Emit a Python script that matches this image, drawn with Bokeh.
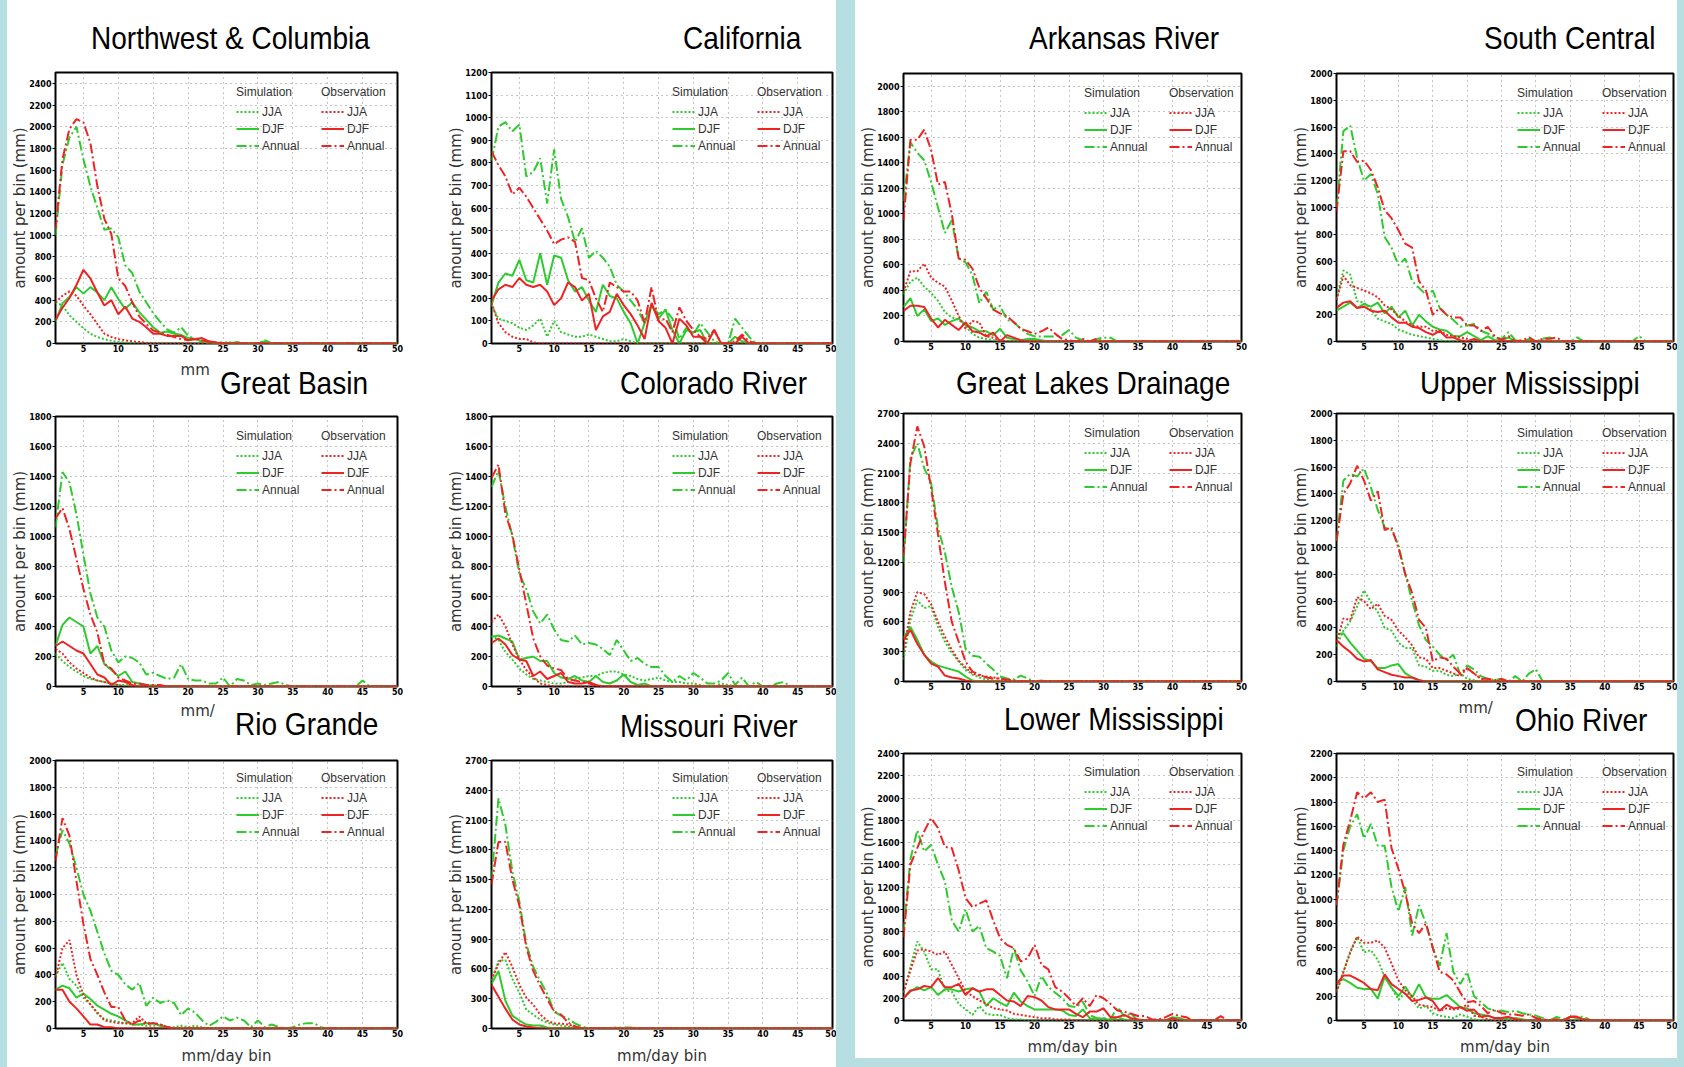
from bokeh.plotting import figure
from bokeh.layouts import row, column
from bokeh.models import Range1d, Legend, LegendItem, FixedTicker, Spacer, Div
from bokeh.embed import file_html
from bokeh.resources import INLINE

BINS = list(range(1, 51))

# ---------------- data (amount per bin, mm); bins after the listed ones are 0
nw_sim_jja = [380, 350, 260, 200, 140, 90, 60, 40, 25, 15, 10, 5]
nw_sim_djf = [200, 370, 430, 520, 460, 520, 470, 400, 520, 410, 320, 380, 290, 220, 150, 100, 110, 90, 80, 50, 40, 20, 10, 0, 0, 10, 0, 0, 0, 0, 20]
nw_sim_ann = [1000, 1650, 1900, 2000, 1700, 1450, 1250, 1050, 1060, 980, 720, 650, 480, 380, 280, 200, 130, 100, 150, 70, 40, 20, 0, 0, 15, 0, 15, 0, 0, 0, 30]
nw_obs_jja = [380, 440, 480, 440, 350, 270, 180, 90, 60, 40, 30, 20, 15, 5]
nw_obs_djf = [220, 330, 420, 540, 680, 600, 470, 350, 400, 270, 340, 230, 200, 150, 90, 90, 70, 70, 70, 30, 40, 50, 20, 10]
nw_obs_ann = [1050, 1700, 1980, 2070, 2040, 1850, 1450, 1150, 1010, 600, 530, 380, 250, 180, 120, 100, 80, 60, 40, 30, 50, 30, 15, 10]

ca_sim_jja = [170, 110, 100, 90, 70, 60, 80, 110, 30, 100, 50, 40, 30, 30, 40, 30, 20, 10, 10, 20, 10]
ca_sim_djf = [170, 270, 310, 300, 370, 280, 270, 400, 260, 390, 380, 280, 230, 250, 190, 140, 260, 210, 200, 140, 90, 0, 90, 170, 110, 150, 60, 0, 60, 50, 60, 0, 0, 0, 0, 30, 10]
ca_sim_ann = [810, 960, 980, 940, 970, 740, 760, 820, 620, 860, 640, 560, 450, 510, 380, 410, 380, 340, 260, 230, 190, 150, 90, 170, 130, 150, 110, 20, 70, 40, 90, 50, 10, 0, 0, 110, 70, 30]
ca_obs_jja = [180, 90, 50, 30, 20, 20, 5]
ca_obs_djf = [190, 240, 260, 250, 290, 260, 250, 260, 230, 170, 200, 270, 250, 190, 220, 60, 120, 140, 220, 170, 130, 80, 20, 180, 100, 70, 0, 110, 80, 30, 30, 0, 60, 0, 0, 0, 30]
ca_obs_ann = [850, 790, 740, 660, 690, 650, 600, 550, 500, 440, 460, 470, 450, 290, 280, 200, 140, 270, 250, 230, 230, 190, 90, 250, 100, 110, 50, 160, 100, 60, 30, 20, 60, 0, 0, 10, 40, 10]

gb_sim_jja = [220, 170, 130, 100, 70, 50, 40, 30, 20, 10, 10, 5, 5, 5, 10]
gb_sim_djf = [270, 410, 460, 430, 400, 220, 270, 150, 110, 70, 100, 30, 20, 10]
gb_sim_ann = [1060, 1430, 1360, 1150, 880, 620, 460, 400, 240, 160, 200, 190, 160, 80, 90, 70, 50, 60, 150, 50, 40, 40, 20, 20, 60, 0, 50, 40, 10, 20, 10, 20, 30, 10, 0, 0, 0, 0, 0, 0, 0, 0, 0, 0, 40]
gb_obs_jja = [250, 220, 160, 120, 90, 60, 40, 30, 20, 10]
gb_obs_djf = [270, 300, 270, 240, 220, 150, 80, 60, 10, 40, 30, 10]
gb_obs_ann = [1120, 1190, 1050, 850, 650, 480, 360, 150, 120, 60, 40, 20, 20, 10, 10, 10]

co_sim_jja = [340, 310, 230, 180, 120, 80, 50, 40, 30, 20, 20, 30, 50, 60, 70, 70, 90, 100, 100, 80, 70, 50, 40, 50, 60, 40, 30, 30, 20, 20, 10, 0, 0, 20, 10]
co_sim_djf = [330, 340, 320, 300, 180, 190, 200, 170, 170, 90, 60, 50, 70, 40, 30, 70, 30, 20, 40, 80, 30, 10, 20]
co_sim_ann = [1330, 1440, 1200, 1000, 750, 650, 500, 420, 480, 380, 310, 300, 340, 280, 290, 280, 250, 210, 310, 240, 170, 190, 150, 130, 130, 70, 30, 70, 40, 90, 60, 20, 20, 40, 90, 10, 60, 0, 30, 0, 0, 20, 30]
co_obs_jja = [430, 480, 400, 280, 180, 110, 60, 20, 10]
co_obs_djf = [290, 320, 280, 210, 180, 170, 70, 100, 50, 70, 90, 30, 20, 20, 30, 10]
co_obs_ann = [1390, 1480, 1150, 1010, 780, 550, 320, 200, 140, 120, 110, 50, 40, 30, 20, 10]

rg_sim_jja = [390, 490, 370, 320, 230, 180, 110, 70, 60, 50, 40, 30, 30, 20, 20, 30, 10, 10, 20, 10, 20, 10]
rg_sim_djf = [290, 320, 300, 230, 260, 220, 170, 140, 110, 90, 60, 30, 30, 40, 40, 20, 10]
rg_sim_ann = [1290, 1480, 1380, 1200, 1000, 880, 720, 560, 430, 400, 330, 290, 340, 170, 230, 190, 210, 190, 100, 150, 120, 60, 20, 50, 90, 60, 80, 60, 10, 60, 10, 30, 10, 0, 10, 30, 40, 40, 10]
rg_obs_jja = [380, 600, 660, 400, 250, 180, 120, 60, 50, 40, 40, 40, 90, 40, 40, 30, 10]
rg_obs_djf = [290, 290, 200, 150, 90, 30, 30, 10, 10]
rg_obs_ann = [1250, 1570, 1440, 1100, 780, 520, 400, 270, 160, 160, 60, 30, 60, 30, 40, 30, 10]

mo_sim_jja = [480, 680, 690, 500, 360, 190, 140, 90, 60, 40, 30, 20, 10]
mo_sim_djf = [450, 580, 280, 130, 80, 40, 30, 30, 10]
mo_sim_ann = [1500, 2320, 2050, 1580, 1280, 850, 620, 480, 350, 170, 130, 100, 50, 20, 0, 0, 0, 0, 10, 10, 10]
mo_obs_jja = [490, 650, 770, 620, 440, 310, 240, 140, 80, 50, 50, 40, 20]
mo_obs_djf = [440, 320, 200, 90, 40, 20, 10]
mo_obs_ann = [1450, 1880, 1880, 1500, 1240, 820, 580, 430, 300, 170, 140, 60, 20]

ar_sim_jja = [370, 470, 500, 430, 380, 320, 230, 190, 170, 120, 60, 30, 20, 10]
ar_sim_djf = [270, 340, 200, 250, 160, 180, 130, 160, 180, 130, 110, 80, 80, 50, 100, 30, 20, 10, 20, 20, 10]
ar_sim_ann = [1100, 1560, 1480, 1420, 1250, 1050, 850, 950, 650, 620, 520, 300, 390, 250, 280, 170, 150, 100, 60, 40, 40, 40, 40, 50, 90, 30, 10, 0, 20, 30, 30]
ar_obs_jja = [390, 550, 550, 610, 500, 460, 430, 320, 200, 100, 160, 150, 40, 30, 10]
ar_obs_djf = [240, 280, 280, 270, 180, 110, 170, 130, 90, 150, 80, 70, 40, 70, 0, 50, 30, 10]
ar_obs_ann = [950, 1580, 1580, 1660, 1500, 1230, 1250, 1000, 650, 640, 570, 420, 340, 250, 220, 200, 150, 100, 80, 60, 80, 110, 60, 20, 10, 0, 20, 0, 20]

sc_sim_jja = [320, 530, 500, 300, 290, 240, 170, 150, 130, 90, 70, 50, 40, 30, 20, 10]
sc_sim_djf = [230, 260, 290, 250, 280, 260, 290, 210, 260, 180, 230, 120, 200, 150, 110, 90, 80, 40, 40, 70, 40, 10, 40, 10, 10, 30]
sc_sim_ann = [1000, 1570, 1610, 1370, 1200, 1250, 1100, 780, 700, 570, 620, 450, 400, 350, 380, 250, 200, 160, 110, 120, 130, 80, 60, 30, 20, 70, 10, 0, 20, 0, 20, 30, 0, 0, 0, 30, 0, 0, 0, 0, 0, 0, 0, 0, 40]
sc_obs_jja = [310, 490, 420, 400, 380, 360, 330, 270, 240, 190, 150, 120, 110, 110, 80, 80, 50, 40, 30, 20]
sc_obs_djf = [250, 290, 300, 250, 260, 230, 220, 230, 180, 140, 140, 110, 100, 70, 50, 80, 30, 30, 10, 0, 20]
sc_obs_ann = [970, 1420, 1420, 1340, 1350, 1280, 1150, 980, 920, 830, 730, 700, 450, 380, 200, 250, 200, 180, 180, 120, 120, 80, 110, 40, 10, 40, 0, 10, 30, 0, 20, 20, 30]

gl_sim_jja = [220, 620, 820, 740, 760, 550, 400, 290, 200, 120, 70, 40, 20, 10]
gl_sim_djf = [440, 550, 420, 270, 200, 160, 140, 120, 100, 50, 10]
gl_sim_ann = [1200, 2250, 2400, 2150, 2000, 1550, 1300, 950, 700, 330, 260, 250, 180, 120, 50, 30, 20, 60, 30, 0, 10]
gl_obs_jja = [300, 700, 900, 880, 780, 600, 450, 320, 210, 140, 80, 60, 50, 40, 30, 10]
gl_obs_djf = [420, 520, 380, 270, 180, 150, 60, 40, 30, 10]
gl_obs_ann = [1260, 2200, 2570, 2370, 1950, 1480, 1000, 600, 400, 200, 100, 70, 40, 30, 30, 20, 10]

um_sim_jja = [260, 380, 450, 560, 680, 590, 520, 400, 380, 290, 250, 250, 120, 110, 80, 80, 50, 40, 60, 20, 10]
um_sim_djf = [350, 360, 290, 230, 170, 150, 100, 100, 120, 130, 60, 30, 10]
um_sim_ann = [1050, 1500, 1550, 1530, 1590, 1450, 1280, 1150, 1130, 1020, 800, 600, 420, 310, 260, 200, 160, 200, 50, 120, 90, 40, 20, 10, 20, 0, 40, 0, 60, 90]
um_obs_jja = [290, 470, 460, 630, 600, 540, 580, 490, 460, 380, 330, 270, 180, 170, 100, 100, 80, 60, 40, 100, 60, 20]
um_obs_djf = [310, 260, 220, 170, 150, 160, 90, 70, 50, 40, 30, 30, 10]
um_obs_ann = [1050, 1400, 1480, 1610, 1500, 1350, 1420, 1130, 1150, 1000, 800, 660, 460, 400, 150, 180, 170, 110, 60, 100, 60, 20, 20, 10, 20]

lm_sim_jja = [250, 480, 710, 620, 460, 460, 270, 260, 150, 100, 50, 130, 60, 50, 50, 20, 10, 10]
lm_sim_djf = [200, 260, 300, 270, 300, 230, 280, 280, 260, 280, 290, 260, 130, 200, 160, 130, 250, 170, 130, 100, 100, 100, 100, 90, 50, 40, 100, 20, 10, 20, 0, 30, 10, 0, 0, 0, 0, 0, 0, 30, 20]
lm_sim_ann = [800, 1450, 1710, 1520, 1580, 1400, 1250, 900, 800, 1000, 800, 850, 650, 620, 580, 380, 650, 450, 350, 220, 400, 300, 250, 200, 130, 120, 170, 50, 20, 20, 10, 120, 40, 60, 0, 0, 0, 0, 0, 10, 20]
lm_obs_jja = [250, 450, 630, 640, 620, 590, 620, 500, 380, 260, 220, 180, 150, 110, 100, 90, 60, 50, 40, 30, 20, 20, 10, 10, 10]
lm_obs_djf = [200, 270, 280, 310, 300, 380, 300, 300, 330, 230, 290, 260, 280, 280, 230, 180, 170, 130, 220, 210, 180, 120, 100, 100, 100, 60, 30, 80, 80, 110, 30, 30, 50, 20, 10, 0, 0, 0, 0, 20]
lm_obs_ann = [750, 1400, 1550, 1700, 1820, 1730, 1560, 1550, 1350, 1100, 1020, 1050, 1080, 900, 740, 680, 650, 530, 560, 680, 500, 460, 300, 260, 200, 130, 200, 130, 230, 200, 150, 90, 80, 60, 40, 40, 10, 10, 30, 60, 40, 30, 0, 0, 0, 0, 40]

oh_sim_jja = [240, 400, 570, 690, 560, 580, 500, 360, 270, 170, 230, 170, 100, 120, 60, 40, 30, 20, 50, 30, 10]
oh_sim_djf = [320, 340, 310, 270, 260, 260, 180, 360, 270, 200, 280, 190, 300, 190, 180, 180, 210, 160, 110, 100, 60, 50, 40, 20, 20, 10, 20, 10, 0, 0, 0, 0, 0, 0, 30, 20, 10]
oh_sim_ann = [950, 1400, 1600, 1700, 1500, 1620, 1440, 1440, 1100, 900, 1100, 700, 950, 800, 600, 450, 720, 400, 300, 400, 200, 150, 100, 80, 80, 70, 80, 60, 50, 40, 20, 0, 30, 10, 30, 30, 30]
oh_obs_jja = [230, 400, 560, 690, 640, 640, 660, 600, 470, 330, 250, 200, 130, 120, 110, 80, 100, 90, 100, 130, 40, 30, 10]
oh_obs_djf = [300, 370, 370, 340, 310, 260, 250, 380, 300, 260, 220, 160, 170, 190, 160, 80, 130, 100, 110, 80, 90, 30, 40, 20, 20, 30, 10, 0, 0, 0, 0, 0, 0, 0, 30, 30]
oh_obs_ann = [950, 1450, 1650, 1880, 1830, 1880, 1800, 1820, 1420, 1250, 1050, 800, 720, 800, 600, 400, 380, 330, 230, 150, 160, 120, 60, 90, 60, 50, 50, 40, 50, 20, 10, 0, 10, 0, 30, 30, 10]

region_names = ["Northwest & Columbia", "California", "Great Basin", "Colorado River", "Rio Grande",
                "Missouri River", "Arkansas River", "South Central", "Great Lakes Drainage",
                "Upper Mississippi", "Lower Mississippi", "Ohio River"]
region_series = [
    (nw_sim_jja, nw_sim_djf, nw_sim_ann, nw_obs_jja, nw_obs_djf, nw_obs_ann),
    (ca_sim_jja, ca_sim_djf, ca_sim_ann, ca_obs_jja, ca_obs_djf, ca_obs_ann),
    (gb_sim_jja, gb_sim_djf, gb_sim_ann, gb_obs_jja, gb_obs_djf, gb_obs_ann),
    (co_sim_jja, co_sim_djf, co_sim_ann, co_obs_jja, co_obs_djf, co_obs_ann),
    (rg_sim_jja, rg_sim_djf, rg_sim_ann, rg_obs_jja, rg_obs_djf, rg_obs_ann),
    (mo_sim_jja, mo_sim_djf, mo_sim_ann, mo_obs_jja, mo_obs_djf, mo_obs_ann),
    (ar_sim_jja, ar_sim_djf, ar_sim_ann, ar_obs_jja, ar_obs_djf, ar_obs_ann),
    (sc_sim_jja, sc_sim_djf, sc_sim_ann, sc_obs_jja, sc_obs_djf, sc_obs_ann),
    (gl_sim_jja, gl_sim_djf, gl_sim_ann, gl_obs_jja, gl_obs_djf, gl_obs_ann),
    (um_sim_jja, um_sim_djf, um_sim_ann, um_obs_jja, um_obs_djf, um_obs_ann),
    (lm_sim_jja, lm_sim_djf, lm_sim_ann, lm_obs_jja, lm_obs_djf, lm_obs_ann),
    (oh_sim_jja, oh_sim_djf, oh_sim_ann, oh_obs_jja, oh_obs_djf, oh_obs_ann),
]
y_max = [2500, 1200, 1800, 1800, 2000, 2700, 2100, 2000, 2700, 2000, 2400, 2200]
y_step = [200, 100, 200, 200, 200, 300, 200, 200, 300, 200, 200, 200]
x_ticks = [5, 10, 15, 20, 25, 30, 35, 40, 45, 50]
season_labels = ["JJA", "DJF", "Annual"]
x_label = "mm/day bin"

# ---------------- styling / geometry
GREEN = "#2ecb2e"
RED = "#ee2424"
BLUE = "#b7dfe1"
DASHES = ["2 2", "solid", "10 3 2 3"]

# (width, left border, right border) for the 4 columns
COLS = [(423, 48, 33), (406, 61, 4), (415, 48, 29), (407, 66, 4)]
# (title strip height, plot height, bottom border) for left and right half rows
LROWS = [(64, 291, 12), (53, 290, 12), (54, 315, 37)]
RROWS = [(65, 290, 14), (50, 289, 13), (51, 313, 37)]
# title text position inside its strip (left, top), px
TITLE_POS = [(84, 22.6), (253, 22.6), (213, 12.6), (190, 12.6), (228, 11.3), (190, 12.6),
             (174, 22.6), (214, 22.6), (101, 12.6), (150, 12.6), (149, 10.3), (245, 11.4)]
# remnants of the panel-above x label peeking out beside some titles: (left, top, characters)
FRAGMENTS = {2: (173.6, 6.1, 2), 4: (173.6, 4.1, 3), 11: (188.6, 5.1, 3)}


def pad(v):
    return list(v) + [0] * (50 - len(v))


def make_title(i, w, th):
    lx, ty = TITLE_POS[i]
    name = region_names[i].replace("&", "&amp;")
    parts = ['<div style="position:relative; width:%dpx; height:%dpx;">' % (w, th)]
    parts.append('<div style="position:absolute; left:%.1fpx; top:%.1fpx; white-space:nowrap; '
                 'font-family:\'Liberation Sans\', Arial, sans-serif; font-size:31.5px; line-height:1; '
                 'color:#000; transform:scaleX(0.89); transform-origin:0 0;">%s</div>' % (lx, ty, name))
    if i in FRAGMENTS:
        fx, fy, nch = FRAGMENTS[i]
        parts.append('<div style="position:absolute; left:%.1fpx; top:%.1fpx; '
                     'white-space:nowrap; font-family:\'DejaVu Sans\', sans-serif; font-size:15px; '
                     'line-height:normal; color:#333;">%s</div>' % (fx, fy, x_label[:nch]))
    parts.append('</div>')
    return Div(text="".join(parts), width=w, height=th, margin=0,
               styles={"background-color": "white", "overflow": "hidden"})


def make_panel(i, col, rw, bottom_row, label_standoff):
    w, bl, br = col
    th, h, bb = rw
    bt = 8
    fh = h - bt - bb
    p = figure(width=w, height=h, x_range=Range1d(1, 50), y_range=Range1d(0, y_max[i]),
               output_backend="svg", toolbar_location=None,
               min_border_left=bl, min_border_right=br, min_border_top=bt, min_border_bottom=bb,
               border_fill_color="white", background_fill_color="white")
    p.outline_line_color = "black"
    p.outline_line_width = 2

    p.xaxis.ticker = FixedTicker(ticks=x_ticks)
    p.yaxis.ticker = FixedTicker(ticks=list(range(0, y_max[i] + 1, y_step[i])))
    for ax in (p.xaxis[0], p.yaxis[0]):
        ax.axis_line_color = None
        ax.minor_tick_line_color = None
        ax.major_label_text_font = "DejaVu Sans"
        ax.major_label_text_font_size = "8px"
        ax.major_label_text_font_style = "bold"
        ax.major_label_text_color = "black"
        ax.major_label_standoff = 1
        ax.axis_label_text_font = "DejaVu Sans"
        ax.axis_label_text_font_size = "15px"
        ax.axis_label_text_font_style = "normal"
        ax.axis_label_text_color = "#333333"
    p.yaxis.major_tick_out = 3
    p.yaxis.major_tick_in = 0
    p.yaxis.major_tick_line_color = "black"
    p.xaxis.major_tick_out = 0
    p.xaxis.major_tick_in = 0
    p.yaxis.axis_label = "amount per bin (mm)"
    p.yaxis.axis_label_standoff = -3
    if bottom_row:
        p.xaxis.axis_label = x_label
        p.xaxis.axis_label_standoff = label_standoff
    for g in (p.xgrid[0], p.ygrid[0]):
        g.grid_line_color = "#8a8a8a"
        g.grid_line_dash = "1 4"
        g.grid_line_width = 1

    rs = []
    for k, vals in enumerate(region_series[i]):
        color = GREEN if k < 3 else RED
        r = p.line(BINS, pad(vals), line_color=color, line_width=2, line_dash=DASHES[k % 3])
        rs.append(r)

    leg_h = 70
    for j, (ttl, xoff) in enumerate((("Simulation", 181), ("Observation", 266))):
        items = [LegendItem(label=season_labels[k], renderers=[rs[j * 3 + k]]) for k in range(3)]
        leg = Legend(items=items, title=ttl, location=(xoff, fh - 12 - leg_h),
                     padding=0, margin=0, spacing=0, glyph_width=23, glyph_height=17,
                     label_height=17, label_standoff=3, title_standoff=4,
                     background_fill_alpha=0, border_line_alpha=0,
                     label_text_font="Liberation Sans", label_text_font_size="12px",
                     label_text_color="#333333",
                     title_text_font="Liberation Sans", title_text_font_size="12px",
                     title_text_font_style="normal", title_text_color="#333333")
        p.add_layout(leg)
    return column(make_title(i, w, th), p)


left_rows = []
for r, (a, b) in enumerate([(0, 1), (2, 3), (4, 5)]):
    ca = make_panel(a, COLS[0], LROWS[r], r == 2, 7)
    cb = make_panel(b, COLS[1], LROWS[r], r == 2, 7)
    left_rows.append(row(ca, cb))
right_rows = []
for r, (a, b) in enumerate([(6, 7), (8, 9), (10, 11)]):
    ca = make_panel(a, COLS[2], RROWS[r], r == 2, 6)
    cb = make_panel(b, COLS[3], RROWS[r], r == 2, 6)
    right_rows.append(row(ca, cb))
right_rows.append(Spacer(width=COLS[2][0] + COLS[3][0], height=9, styles={"background-color": BLUE}))


def strip(w):
    return Spacer(width=w, height=1067, styles={"background-color": BLUE})


layout = row(strip(7), column(*left_rows), strip(19), column(*right_rows), strip(7),
             styles={"background-color": "white"})

open("out.html", "w").write(file_html(layout, INLINE))
